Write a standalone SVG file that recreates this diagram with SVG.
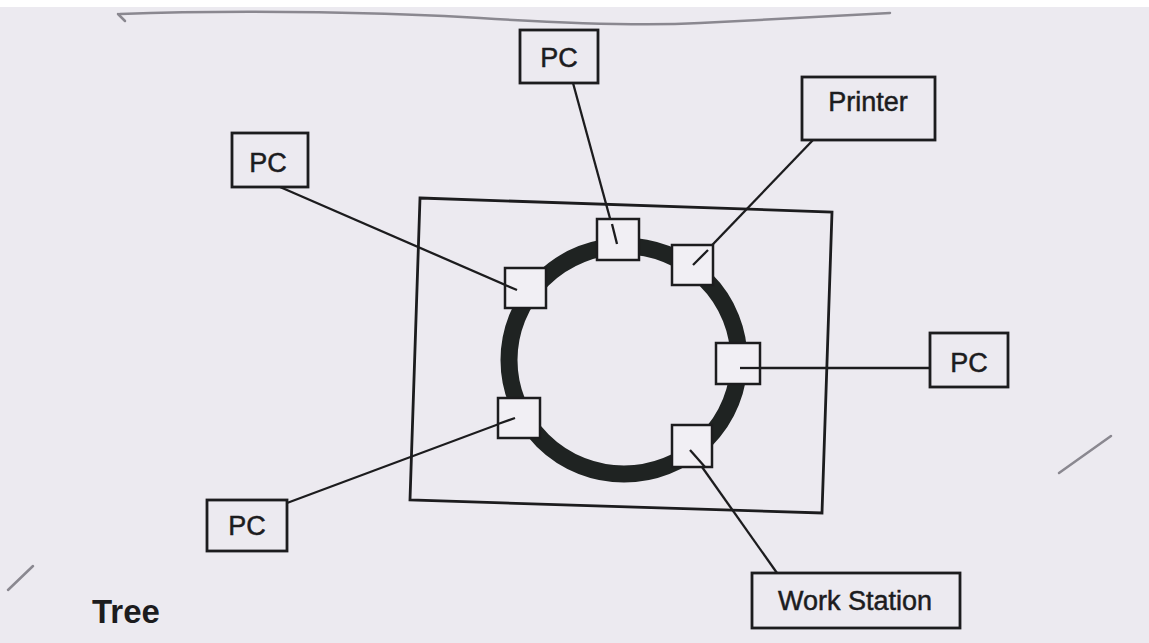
<svg xmlns="http://www.w3.org/2000/svg" width="1149" height="643" viewBox="0 0 1149 643">
<style>
.box{fill:none;stroke:#1c1c1e;stroke-width:2.8}
.port{fill:#f1eff4;stroke:#1c1c1e;stroke-width:2.5}
.lbl{font-family:"Liberation Sans",Arial,sans-serif;font-size:27px;fill:#1c1c1e;stroke:#1c1c1e;stroke-width:0.5;text-anchor:middle}
.conn{fill:none;stroke:#1c1c1e;stroke-width:2.3}
.mark{fill:none;stroke:#8a8890;stroke-width:2.5;stroke-linecap:round}
</style>
<rect x="0" y="0" width="1149" height="643" fill="#eceaf0"/>
<rect x="0" y="0" width="1149" height="7" fill="#ffffff"/>
<g id="marks">
<path class="mark" d="M118,14 L125,21"/>
<path class="mark" stroke-width="3" d="M120,14 C250,9 400,13 480,18 C560,23 640,26 700,23 C780,19 850,15 890,13"/>
<path class="mark" d="M8,590 L33,566"/>
<path class="mark" d="M1059,473 L1111,436"/>
</g>
<g id="frame">
<polygon class="box" points="420,198 832,212 822,513 410,500"/>
</g>
<g id="ring">
<ellipse cx="624" cy="360" rx="115" ry="114" fill="none" stroke="#1f2322" stroke-width="17"/>
</g>
<g id="connectors">
<line class="conn" x1="573" y1="83" x2="617" y2="244"/>
<line class="conn" x1="813" y1="140" x2="693" y2="265"/>
<line class="conn" x1="280" y1="187" x2="517" y2="290"/>
<line class="conn" x1="740" y1="368" x2="930" y2="368"/>
<line class="conn" x1="287" y1="503" x2="515" y2="418"/>
<line class="conn" x1="777" y1="573" x2="690" y2="450"/>
</g>
<g id="ports">
<rect class="port" x="597" y="219" width="42" height="41"/>
<rect class="port" x="672" y="245" width="41" height="40"/>
<rect class="port" x="505" y="268" width="41" height="40"/>
<rect class="port" x="716" y="343" width="44" height="41"/>
<rect class="port" x="498" y="398" width="42" height="40"/>
<rect class="port" x="672" y="425" width="40" height="42"/>
<line class="conn" x1="617" y1="244" x2="612" y2="224"/>
<line class="conn" x1="693" y1="265" x2="708" y2="250"/>
<line class="conn" x1="517" y1="290" x2="505" y2="285"/>
<line class="conn" x1="740" y1="368" x2="760" y2="368"/>
<line class="conn" x1="515" y1="418" x2="498" y2="424"/>
<line class="conn" x1="690" y1="450" x2="705" y2="467"/>
</g>
<g id="pc-top">
<rect class="box" x="520" y="30" width="78" height="53"/>
<text class="lbl" x="559" y="67">PC</text>
</g>
<g id="printer">
<rect class="box" x="802" y="77" width="133" height="63"/>
<text class="lbl" x="868" y="111">Printer</text>
</g>
<g id="pc-left">
<rect class="box" x="232" y="133" width="76" height="54"/>
<text class="lbl" x="268" y="172">PC</text>
</g>
<g id="pc-right">
<rect class="box" x="930" y="333" width="78" height="54"/>
<text class="lbl" x="969" y="372">PC</text>
</g>
<g id="pc-bottom">
<rect class="box" x="207" y="500" width="80" height="51"/>
<text class="lbl" x="247" y="535">PC</text>
</g>
<g id="workstation">
<rect class="box" x="752" y="573" width="208" height="55"/>
<text class="lbl" x="855" y="610">Work Station</text>
</g>
<g id="caption">
<text x="92" y="623" font-family="'Liberation Sans',Arial,sans-serif" font-size="33" font-weight="bold" fill="#1c1c1e">Tree</text>
</g>
</svg>
